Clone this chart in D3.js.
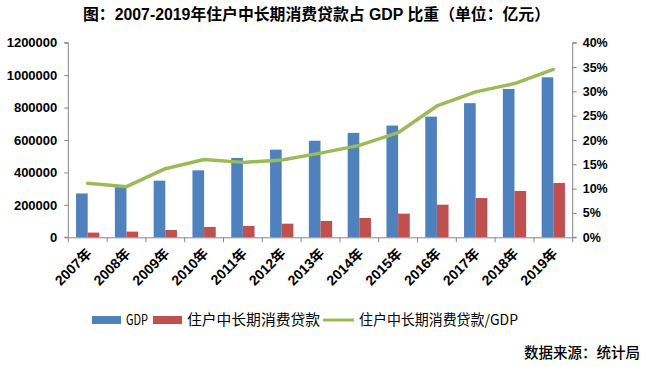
<!DOCTYPE html>
<html><head><meta charset="utf-8">
<script src="https://cdn.jsdelivr.net/npm/d3@7"></script>
<style>
html,body{margin:0;padding:0;background:#fff;}
svg{display:block;}
</style></head>
<body>
<svg id="c" width="647" height="367"></svg>
<script>
const years = ["2007年","2008年","2009年","2010年","2011年","2012年","2013年","2014年","2015年","2016年","2017年","2018年","2019年"];
const gdp = [270232,319516,349081,413030,489301,540367,595244,643974,689052,744127,827122,914707,986515];
const loans = [29000,35000,45000,64000,70000,84000,101000,119000,146000,201000,242000,286000,335000];
const ratio = [11.1,10.4,14.1,16.0,15.4,15.9,17.3,18.9,21.5,27.0,29.9,31.6,34.5];
const leftTicks = [0,200000,400000,600000,800000,1000000,1200000];
const rightTicks = [0,5,10,15,20,25,30,35,40];
const titleText = "图：2007-2019年住户中长期消费贷款占 GDP 比重（单位：亿元）";
const legendLabels = ["GDP","住户中长期消费贷款","住户中长期消费贷款/GDP"];
const sourceText = "数据来源：统计局";

const svg = d3.select("#c");
const L = 68.3, R = 572.7, T = 42.7, B = 237.3;
const x = d3.scaleBand().domain(years).range([L, R]).padding(0);
const yL = d3.scaleLinear().domain([0,1200000]).range([B, T]);
const yR = d3.scaleLinear().domain([0,40]).range([B, T]);
const bw = x.bandwidth() * 0.3;
const blue = "#4F81BD", red = "#C0504D", green = "#9BBB59", axisCol = "#868686";
const latin = "'Liberation Sans', Arial, 'Noto Sans CJK SC', sans-serif";
const cjk = "'Noto Sans CJK SC', sans-serif";

// title
svg.append("text").attr("x", 83).attr("y", 20)
  .attr("font-family", latin).attr("font-weight", "bold").attr("font-size", 16)
  .attr("textLength", 467).attr("lengthAdjust", "spacingAndGlyphs")
  .attr("fill", "#000").text(titleText);

// bars
svg.append("g").selectAll("rect").data(years).join("rect")
  .attr("x", d => x(d) + x.bandwidth()/2 - bw)
  .attr("y", (d,i) => yL(gdp[i]))
  .attr("width", bw).attr("height", (d,i) => B - yL(gdp[i]))
  .attr("fill", blue);
svg.append("g").selectAll("rect").data(years).join("rect")
  .attr("x", d => x(d) + x.bandwidth()/2)
  .attr("y", (d,i) => yL(loans[i]))
  .attr("width", bw).attr("height", (d,i) => B - yL(loans[i]))
  .attr("fill", red);

// axes
const gl = svg.append("g").attr("transform", `translate(${L},0)`)
  .call(d3.axisLeft(yL).tickValues(leftTicks).tickFormat(d3.format("d")).tickSize(4).tickPadding(7));
const gr = svg.append("g").attr("transform", `translate(${R},0)`)
  .call(d3.axisRight(yR).tickValues(rightTicks).tickFormat(d => d + "%").tickSize(4).tickPadding(6));
const gx = svg.append("g").attr("transform", `translate(0,${B})`)
  .call(d3.axisBottom(x).tickSize(0).tickFormat(""));
gx.selectAll(".tick").remove();
gx.append("g").selectAll("line").data(years.concat(["end"])).join("line")
  .attr("x1", (d,i) => L + i * x.step()).attr("x2", (d,i) => L + i * x.step())
  .attr("y1", 0).attr("y2", 5).attr("stroke", axisCol);
[gl, gr, gx].forEach(g => {
  g.select(".domain").attr("stroke", axisCol).attr("stroke-width", 1);
  g.selectAll(".tick line").attr("stroke", axisCol);
});
gl.select(".domain").attr("d", `M-4,${T}H0V${B}H-4`);
gr.select(".domain").attr("d", `M4,${T}H0V${B}H4`);
gl.selectAll("text").attr("font-family", latin).attr("font-weight", "bold").attr("font-size", 13).attr("fill", "#000");
gr.selectAll("text").attr("font-family", latin).attr("font-weight", "bold").attr("font-size", 12.5).attr("fill", "#000");

// x labels
svg.append("g").selectAll("text").data(years).join("text")
  .attr("transform", d => `translate(${x(d) + x.bandwidth()/2 + 5},${B + 17}) rotate(-45)`)
  .attr("text-anchor", "end")
  .attr("font-family", latin).attr("font-weight", "bold").attr("font-size", 14)
  .attr("fill", "#000").text(d => d);

// ratio line
const line = d3.line().x((d,i) => x(years[i]) + x.bandwidth()/2).y(d => yR(d)).curve(d3.curveLinear);
svg.append("path").datum(ratio).attr("d", line)
  .attr("fill", "none").attr("stroke", green).attr("stroke-width", 3.5)
  .attr("stroke-linejoin", "round").attr("stroke-linecap", "round");

// legend
const lg = svg.append("g");
const ly = 320;
lg.append("rect").attr("x", 92).attr("y", ly - 4).attr("width", 29).attr("height", 8).attr("fill", blue);
lg.append("text").attr("x", 126).attr("y", ly + 5).attr("textLength", 22).text(legendLabels[0]);
lg.append("rect").attr("x", 153).attr("y", ly - 4).attr("width", 29).attr("height", 8).attr("fill", red);
lg.append("text").attr("x", 187).attr("y", ly + 5).attr("textLength", 133).text(legendLabels[1]);
lg.append("line").attr("x1", 323).attr("x2", 354).attr("y1", ly).attr("y2", ly).attr("stroke", green).attr("stroke-width", 3);
lg.append("text").attr("x", 359).attr("y", ly + 5).attr("textLength", 159).text(legendLabels[2]);
lg.selectAll("text").attr("font-family", cjk).attr("font-size", 14.5).attr("fill", "#000")
  .attr("lengthAdjust", "spacingAndGlyphs");

// source
svg.append("text").attr("x", 640).attr("y", 358).attr("text-anchor", "end")
  .attr("font-family", cjk).attr("font-weight", 500).attr("font-size", 14.5).attr("fill", "#000")
  .text(sourceText);
</script>
</body></html>
